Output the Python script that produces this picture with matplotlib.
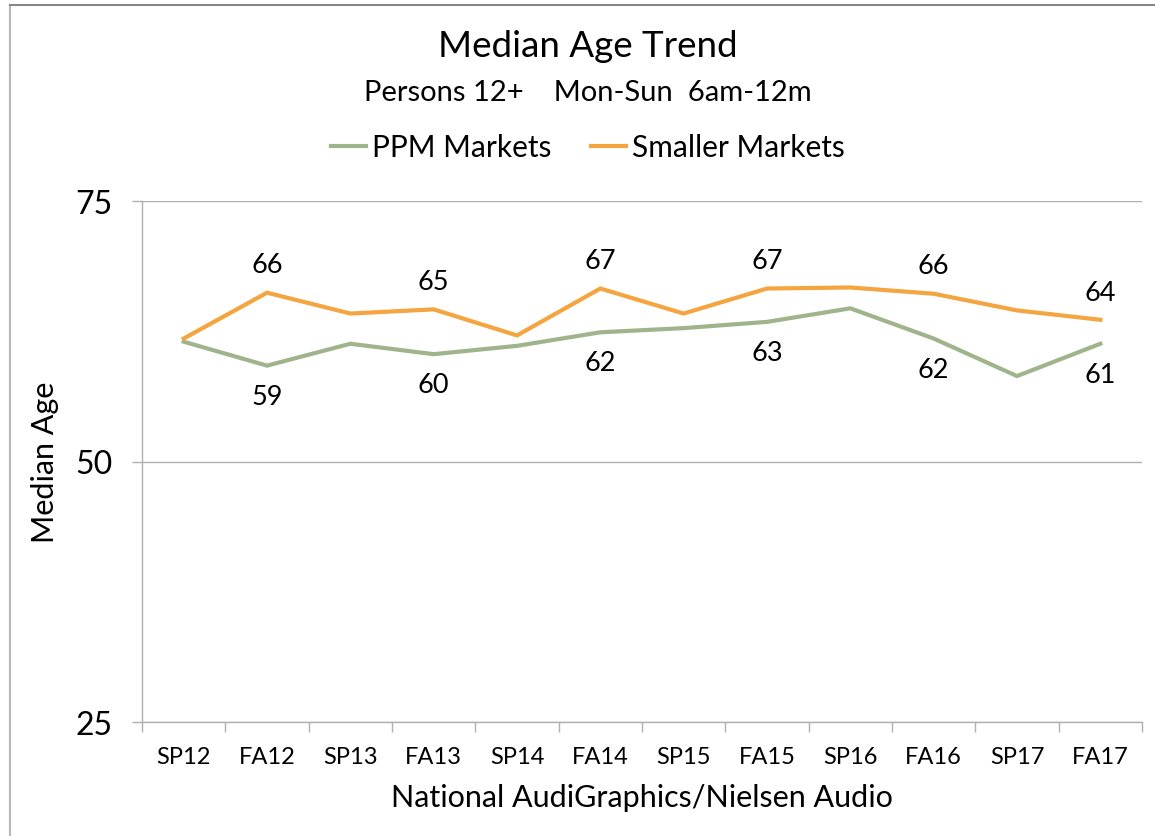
import matplotlib
matplotlib.use("Agg")
import matplotlib.pyplot as plt
from matplotlib.lines import Line2D

plt.rcParams['font.family'] = ['Lato', 'DejaVu Sans']

books = ['SP12', 'FA12', 'SP13', 'FA13', 'SP14', 'FA14',
         'SP15', 'FA15', 'SP16', 'FA16', 'SP17', 'FA17']
ppm = [61.5, 59.2, 61.3, 60.3, 61.1, 62.4, 62.8, 63.4, 64.7, 61.8, 58.2, 61.3]
smaller = [61.8, 66.2, 64.2, 64.6, 62.1, 66.6, 64.2, 66.6, 66.7, 66.1, 64.5, 63.6]

green = '#a0b48c'
orange = '#f4a540'

fig = plt.figure(figsize=(11.55, 8.37), dpi=100)
ax = fig.add_axes([142 / 1155, 1 - 723 / 837, 1000 / 1155, 521 / 837])

x = list(range(len(books)))
ax.plot(x, ppm, color=green, lw=3.0, solid_joinstyle='miter')
ax.plot(x, smaller, color=orange, lw=3.0, solid_joinstyle='miter')

# value labels on the fall books only
for i in x:
    if i % 2 == 1:
        ax.annotate(f'{int(smaller[i] + 0.5)}', (i, smaller[i]), xytext=(0, 20),
                    textcoords='offset points', ha='center', va='center', fontsize=19.5)
        ax.annotate(f'{int(ppm[i] + 0.5)}', (i, ppm[i]), xytext=(0, -22),
                    textcoords='offset points', ha='center', va='center', fontsize=19.5)

ax.set_xlim(-0.5, 11.5)
ax.set_ylim(25, 75)
ax.set_yticks([25, 50, 75])
ax.tick_params(axis='y', labelsize=23, length=7, color='#b0b0b0', width=1, pad=14)
ax.set_xticks(x)
ax.set_xticklabels(books)
ax.set_xticks([i - 0.5 for i in range(13)], minor=True)
ax.tick_params(axis='x', which='major', length=0, labelsize=17, pad=17)
ax.tick_params(axis='x', which='minor', length=7, color='#b0b0b0', width=1)
ax.grid(axis='y', color='#b0b0b0', lw=1)
ax.set_axisbelow(True)
for s in ['top', 'right']:
    ax.spines[s].set_visible(False)
for s in ['left', 'bottom']:
    ax.spines[s].set_color('#b0b0b0')
    ax.spines[s].set_linewidth(1)

ax.set_ylabel('Median Age', fontsize=22, labelpad=12)
ax.set_xlabel('National AudiGraphics/Nielsen Audio', fontsize=22, labelpad=12)

fig.text(0.509, 0.944, 'Median Age Trend', ha='center', va='center', fontsize=26.5)
fig.text(0.509, 0.889, 'Persons 12+    Mon-Sun  6am-12m', ha='center', va='center', fontsize=21)

handles = [Line2D([], [], color=green, lw=3.0), Line2D([], [], color=orange, lw=3.0)]
fig.legend(handles, ['PPM Markets', 'Smaller Markets'], loc='center',
           bbox_to_anchor=(0.509, 0.823), ncol=2, frameon=False, fontsize=21.5,
           handlelength=1.2, handletextpad=0.2, columnspacing=1.3)

# chart frame (left and top edges)
fig.add_artist(Line2D([9.5 / 1155, 9.5 / 1155], [0, 1 - 6 / 837], color='#b8b8b8', lw=1.5,
                      transform=fig.transFigure))
fig.add_artist(Line2D([9.5 / 1155, 1], [1 - 6 / 837, 1 - 6 / 837], color='#888888', lw=1.5,
                      transform=fig.transFigure))

fig.savefig('out.png', dpi=100)
